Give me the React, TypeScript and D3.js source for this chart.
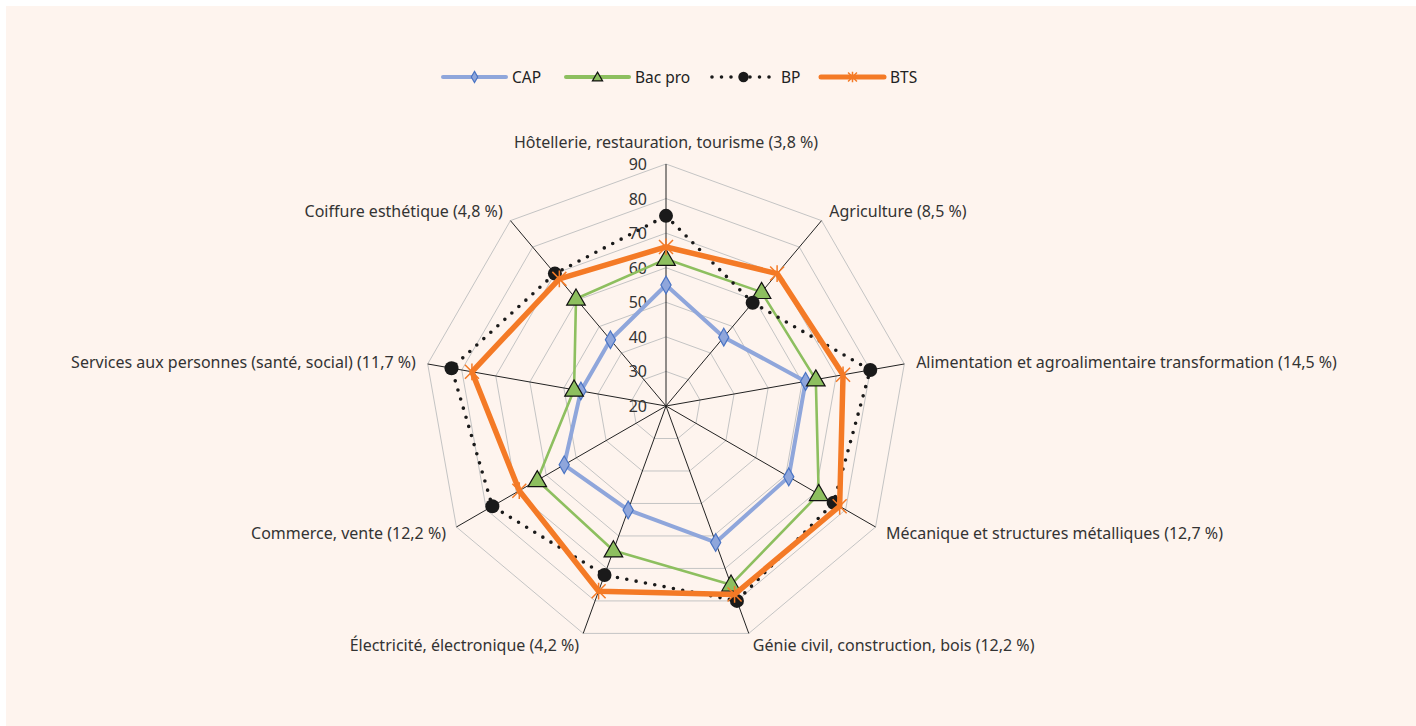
import React from "react";
import * as d3 from "d3";

// axes, clockwise from the top
const categories = [
  "Hôtellerie, restauration, tourisme (3,8 %)",
  "Agriculture (8,5 %)",
  "Alimentation et agroalimentaire transformation (14,5 %)",
  "Mécanique et structures métalliques (12,7 %)",
  "Génie civil, construction, bois (12,2 %)",
  "Électricité, électronique (4,2 %)",
  "Commerce, vente (12,2 %)",
  "Services aux personnes (santé, social) (11,7 %)",
  "Coiffure esthétique (4,8 %)",
];

const cap = [55, 46, 61, 61, 62, 52, 54, 45, 45];
const bacPro = [62.5, 63, 64, 71, 75, 64.5, 63, 47, 60.5];
const bp = [75, 59, 80, 76, 80, 72, 78, 83, 70];
const bts = [66, 70, 72, 78, 78, 77, 69, 77, 68];

const ticks = [20, 30, 40, 50, 60, 70, 80, 90];
const seriesNames = ["CAP", "Bac pro", "BP", "BTS"];

const W = 1416;
const H = 726;
const cx = 666;
const cy = 406;
const R = 242;
const font = "'Noto Sans', sans-serif";

const rScale = d3.scaleLinear().domain([20, 90]).range([0, R]);
const aScale = d3
  .scaleLinear()
  .domain([0, categories.length])
  .range([0, 2 * Math.PI]);

const pt = (i: number, v: number) => {
  const a = aScale(i);
  const r = rScale(v);
  return [cx + r * Math.sin(a), cy - r * Math.cos(a)];
};

const radial = d3
  .lineRadial<number>()
  .angle((_, i) => aScale(i))
  .radius((d) => rScale(d))
  .curve(d3.curveLinearClosed);

const starPath = (s: number) =>
  `M${-s},${-s}L${s},${s}M${-s},${s}L${s},${-s}M0,${-s * 1.2}L0,${s * 1.2}`;

const styles = [
  { color: "#8fa6db", width: 4, dash: "", cap: "butt" },
  { color: "#8dbf5f", width: 2.6, dash: "", cap: "butt" },
  { color: "#1a1a1a", width: 3.6, dash: "0 9.5", cap: "round" },
  { color: "#f47a26", width: 5.5, dash: "", cap: "butt" },
];

const Marker = ({ k, x, y, scale = 1 }: any) => {
  if (k === 0) {
    const p = d3.symbol(d3.symbolDiamond, 90 * scale)();
    return (
      <path
        d={p as string}
        transform={`translate(${x},${y})`}
        fill="#8fa6db"
        stroke="#4a74c4"
        strokeWidth={1.2}
      />
    );
  }
  if (k === 1) {
    const p = d3.symbol(d3.symbolTriangle, 150 * scale)();
    return (
      <path
        d={p as string}
        transform={`translate(${x},${y + 1})`}
        fill="#8dbf5f"
        stroke="#111"
        strokeWidth={1.2}
      />
    );
  }
  if (k === 2) {
    return <circle cx={x} cy={y} r={7 * Math.sqrt(scale)} fill="#1a1a1a" />;
  }
  return (
    <path
      d={starPath(7 * Math.sqrt(scale))}
      transform={`translate(${x},${y})`}
      stroke="#f47a26"
      strokeWidth={1.5}
      fill="none"
    />
  );
};

function App() {
  const data = [cap, bacPro, bp, bts];
  const n = categories.length;
  const idx = d3.range(n);

  const legendX = [443, 566, 712, 821];

  return (
    <div>
      <style>{`body{margin:0;overflow:hidden}`}</style>
      <svg width={W} height={H} style={{ display: "block" }} fontFamily={font}>
        <rect x={6} y={6} width={W - 6} height={H - 6} fill="#fef4ee" />

        {/* legend */}
        {seriesNames.map((name, k) => {
          const x0 = legendX[k];
          const st = styles[k];
          return (
            <g key={name}>
              <line
                x1={x0}
                x2={x0 + 63}
                y1={77}
                y2={77}
                stroke={st.color}
                strokeWidth={k === 3 ? 5 : k === 2 ? 3.6 : 4}
                strokeDasharray={st.dash}
                strokeLinecap="round"
              />
              <Marker
                k={k}
                x={x0 + 31.5}
                y={77}
                scale={k === 2 ? 0.55 : k === 1 ? 0.3 : 0.4}
              />
              <text
                x={x0 + 69}
                y={77}
                dominantBaseline="central"
                fontSize={15.5}
                fill="#222"
              >
                {name}
              </text>
            </g>
          );
        })}

        {/* grid polygons */}
        {ticks.slice(1).map((t) => (
          <path
            key={t}
            d={radial(idx.map(() => t)) as string}
            transform={`translate(${cx},${cy})`}
            fill="none"
            stroke="#c4c4c4"
            strokeWidth={1}
          />
        ))}

        {/* spokes */}
        {idx.map((i) => {
          const [x, y] = pt(i, 90);
          return (
            <line
              key={i}
              x1={cx}
              y1={cy}
              x2={x}
              y2={y}
              stroke="#222"
              strokeWidth={1}
            />
          );
        })}

        {/* tick labels */}
        {ticks.map((t) => (
          <text
            key={t}
            x={cx - 19}
            y={cy - rScale(t)}
            textAnchor="end"
            dominantBaseline="central"
            fontSize={16}
            fill="#333"
          >
            {t}
          </text>
        ))}

        {/* category labels */}
        {categories.map((c, i) => {
          const a = aScale(i);
          const s = Math.sin(a);
          const co = Math.cos(a);
          let x = cx + (R + 12) * s;
          let y = cy - (R + 12) * co;
          let anchor = "middle";
          if (s > 0.01) anchor = "start";
          else if (s < -0.01) anchor = "end";
          if (i === 0) y -= 10;
          return (
            <text
              key={c}
              x={x}
              y={y}
              textAnchor={anchor}
              dominantBaseline="central"
              fontSize={16}
              fill="#333"
            >
              {c}
            </text>
          );
        })}

        {/* series */}
        {data.map((vals, k) => {
          const st = styles[k];
          return (
            <g key={k}>
              <path
                d={radial(vals) as string}
                transform={`translate(${cx},${cy})`}
                fill="none"
                stroke={st.color}
                strokeWidth={st.width}
                strokeDasharray={st.dash}
                strokeLinecap={st.cap as any}
                strokeLinejoin="round"
              />
              {vals.map((v, i) => {
                const [x, y] = pt(i, v);
                return <Marker key={i} k={k} x={x} y={y} />;
              })}
            </g>
          );
        })}
      </svg>
    </div>
  );
}

export default App;
